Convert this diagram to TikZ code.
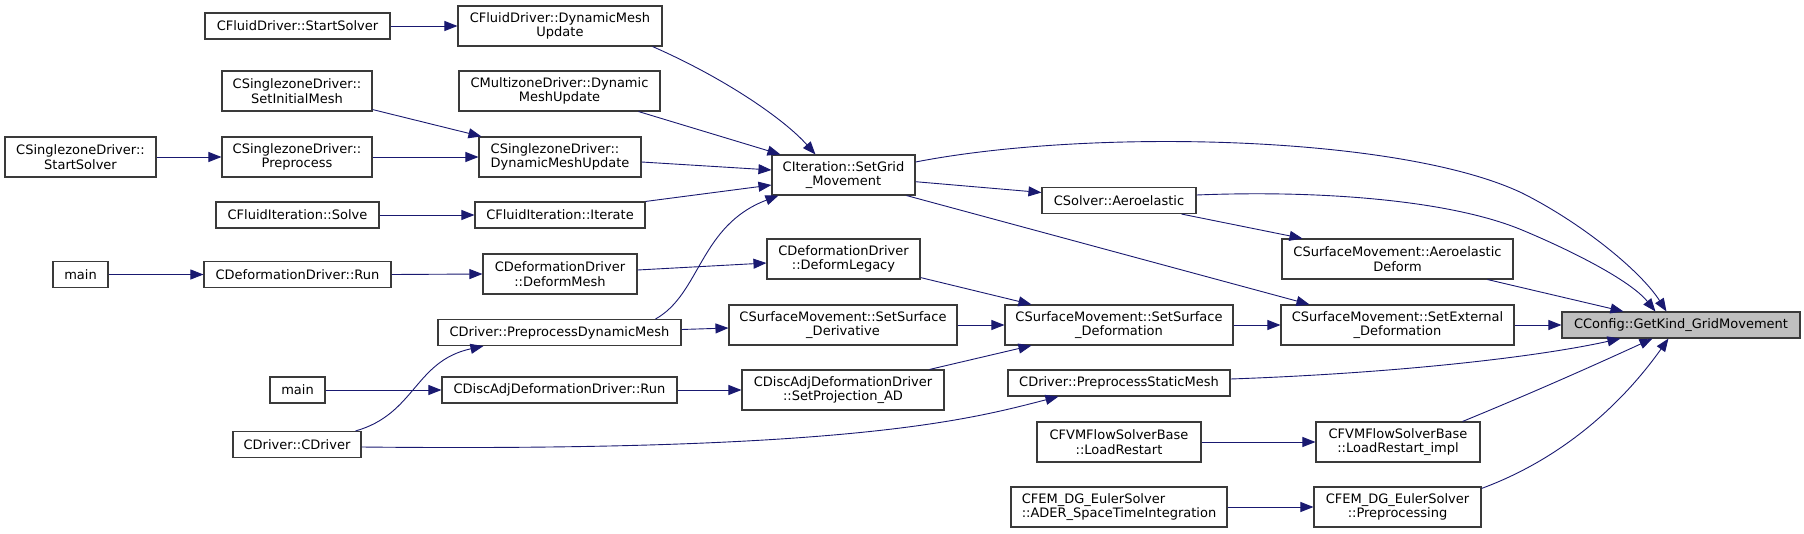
\documentclass[tikz,border=0pt]{standalone}
\usepackage{fontspec}
\setmainfont{DejaVu Sans}
\usetikzlibrary{arrows.meta,calc}
\definecolor{edgecol}{HTML}{191970}
\definecolor{boxborder}{HTML}{3A3A3A}
\definecolor{hilite}{HTML}{BFBFBF}
\tikzset{
  box/.style={draw=boxborder, line width=1.1pt, fill=white, inner sep=0pt,
    font=\fontsize{13}{14.5}\selectfont, align=center},
  edge/.style={draw=edgecol, line width=0.9pt, -{Triangle[length=13pt,width=10pt]}}
}
\begin{document}
\begin{tikzpicture}[x=1pt,y=-1pt]
\useasboundingbox (0,0) rectangle (1804,533);

\node[box,minimum width=185pt,minimum height=26pt] (fss) at (297.5,26) {CFluidDriver::StartSolver};
\node[box,minimum width=204pt,minimum height=40pt] (fdmu) at (560,26) {CFluidDriver::DynamicMesh\\Update};
\node[box,minimum width=150pt,minimum height=40pt] (szsim) at (297,91) {CSinglezoneDriver::\\SetInitialMesh};
\node[box,minimum width=201pt,minimum height=40pt] (mzdmu) at (559.5,91) {CMultizoneDriver::Dynamic\\MeshUpdate};
\node[box,minimum width=151pt,minimum height=40pt] (szss) at (80.5,157) {CSinglezoneDriver::\\StartSolver};
\node[box,minimum width=150pt,minimum height=40pt] (szpp) at (297,157) {CSinglezoneDriver::\\Preprocess};
\node[box,minimum width=162pt,minimum height=40pt,align=left] (szdmu) at (560,157) {CSinglezoneDriver::\\DynamicMeshUpdate};
\node[box,minimum width=143pt,minimum height=40pt] (sgm) at (843.5,175) {CIteration::SetGrid\\\_Movement};
\node[box,minimum width=163pt,minimum height=26pt] (fis) at (297.5,215) {CFluidIteration::Solve};
\node[box,minimum width=170pt,minimum height=26pt] (fii) at (560,215) {CFluidIteration::Iterate};
\node[box,minimum width=154pt,minimum height=26pt] (sae) at (1119,200.5) {CSolver::Aeroelastic};
\node[box,minimum width=55pt,minimum height=26pt] (main1) at (80.5,274.5) {main};
\node[box,minimum width=187pt,minimum height=26pt] (ddr) at (297.5,274.5) {CDeformationDriver::Run};
\node[box,minimum width=154pt,minimum height=40pt] (dmesh) at (560,274) {CDeformationDriver\\::DeformMesh};
\node[box,minimum width=153pt,minimum height=40pt] (dleg) at (843.5,259) {CDeformationDriver\\::DeformLegacy};
\node[box,minimum width=231pt,minimum height=40pt] (sae2) at (1397.5,259) {CSurfaceMovement::Aeroelastic\\Deform};
\node[box,minimum width=243pt,minimum height=26pt] (pdm) at (559.5,332.5) {CDriver::PreprocessDynamicMesh};
\node[box,minimum width=228pt,minimum height=40pt] (ssder) at (843,325) {CSurfaceMovement::SetSurface\\\_Derivative};
\node[box,minimum width=228pt,minimum height=40pt] (ssdef) at (1119,325) {CSurfaceMovement::SetSurface\\\_Deformation};
\node[box,minimum width=233pt,minimum height=40pt] (sext) at (1397.5,325) {CSurfaceMovement::SetExternal\\\_Deformation};
\node[box,minimum width=238pt,minimum height=26pt,fill=hilite] (cfg) at (1681,325) {CConfig::GetKind\_GridMovement};
\node[box,minimum width=55pt,minimum height=26pt] (main2) at (297.5,390) {main};
\node[box,minimum width=235pt,minimum height=26pt] (dadr) at (559.5,390) {CDiscAdjDeformationDriver::Run};
\node[box,minimum width=202pt,minimum height=40pt] (spad) at (843,390) {CDiscAdjDeformationDriver\\::SetProjection\_AD};
\node[box,minimum width=222pt,minimum height=26pt] (psm) at (1119,383) {CDriver::PreprocessStaticMesh};
\node[box,minimum width=128pt,minimum height=26pt] (cdrv) at (297,444.5) {CDriver::CDriver};
\node[box,minimum width=164pt,minimum height=40pt] (lr) at (1119,442) {CFVMFlowSolverBase\\::LoadRestart};
\node[box,minimum width=164pt,minimum height=40pt] (lri) at (1398,442) {CFVMFlowSolverBase\\::LoadRestart\_impl};
\node[box,minimum width=216pt,minimum height=40pt,align=left] (ader) at (1119,507) {CFEM\_DG\_EulerSolver\\::ADER\_SpaceTimeIntegration};
\node[box,minimum width=167pt,minimum height=40pt] (pre) at (1397.5,507) {CFEM\_DG\_EulerSolver\\::Preprocessing};

\draw[edge] (fss.east) -- (fdmu.west);
\draw[edge] ($(fdmu.south east)+(-10,0)$) .. controls +(73,32) and +(-31,-35) .. ($(sgm.north west)+(44,0)$);
\draw[edge] ($(mzdmu.south east)+(-22,0)$) -- ($(sgm.north west)+(9,0)$);
\draw[edge] ($(szdmu.east)+(0,5)$) -- ($(sgm.west)+(0,-5)$);
\draw[edge] (fii.north east) -- ($(sgm.west)+(0,10)$);
\draw[edge] ($(pdm.north east)+(-26,0)$) .. controls +(45,-25) and +(-79,30) .. ($(sgm.south west)+(7,0)$);
\draw[edge] ($(szsim.south east)+(0,-2)$) -- ($(szdmu.north west)+(3,0)$);
\draw[edge] (szpp.east) -- (szdmu.west);
\draw[edge] (szss.east) -- (szpp.west);
\draw[edge] (fis.east) -- (fii.west);
\draw[edge] (main1.east) -- (ddr.west);
\draw[edge] (ddr.east) -- (dmesh.west);
\draw[edge] ($(dmesh.east)+(0,-4)$) -- ($(dleg.west)+(0,4)$);
\draw[edge] ($(dleg.south east)+(0,-2)$) -- ($(ssdef.north west)+(27,0)$);
\draw[edge] ($(pdm.east)+(0,-3)$) -- ($(ssder.west)+(0,3)$);
\draw[edge] (ssder.east) -- (ssdef.west);
\draw[edge] ($(spad.north east)+(-15,0)$) -- ($(ssdef.south west)+(27,0)$);
\draw[edge] (dadr.east) -- (spad.west);
\draw[edge] (main2.east) -- (dadr.west);
\draw[edge] ($(cdrv.north east)+(-6,0)$) .. controls +(60,-17) and +(-69,15) .. ($(pdm.south west)+(46,0)$);
\draw[edge] ($(cdrv.east)+(0,2.5)$) .. controls +(489,5) and +(-89,23) .. ($(psm.south west)+(51,0)$);
\draw[edge] ($(sgm.east)+(0,6.7)$) -- ($(sae.west)+(0,-8)$);
\draw[edge] ($(sgm.east)+(0,-13)$) .. controls (1090,128) and (1400,135) .. (1522,193) .. controls (1580,222) and (1640,270) .. ($(cfg.north west)+(105,0)$);
\draw[edge] ($(sgm.south east)+(-9,0)$) -- ($(sext.north west)+(29,0)$);
\draw[edge] ($(sae.east)+(0,-5.5)$) .. controls (1320,190) and (1450,200) .. (1522,230) .. controls (1570,250) and (1630,280) .. ($(cfg.north west)+(94,0)$);
\draw[edge] ($(sae.south east)+(-15,0)$) -- ($(sae2.north west)+(21,0)$);
\draw[edge] ($(sae2.south east)+(-26,0)$) -- ($(cfg.north west)+(62,0)$);
\draw[edge] (ssdef.east) -- (sext.west);
\draw[edge] (sext.east) -- (cfg.west);
\draw[edge] ($(psm.east)+(0,-4)$) .. controls +(170,-6) and +(-81,18) .. ($(cfg.south west)+(59,0)$);
\draw[edge] ($(lri.north east)+(-18,0)$) .. controls +(78,-32) and +(-48,22) .. ($(cfg.south west)+(91,0)$);
\draw[edge] ($(pre.north east)+(0,2)$) .. controls +(84,-31) and +(-44,62) .. ($(cfg.south west)+(107,0)$);
\draw[edge] (lr.east) -- (lri.west);
\draw[edge] (ader.east) -- (pre.west);
\end{tikzpicture}
\end{document}
